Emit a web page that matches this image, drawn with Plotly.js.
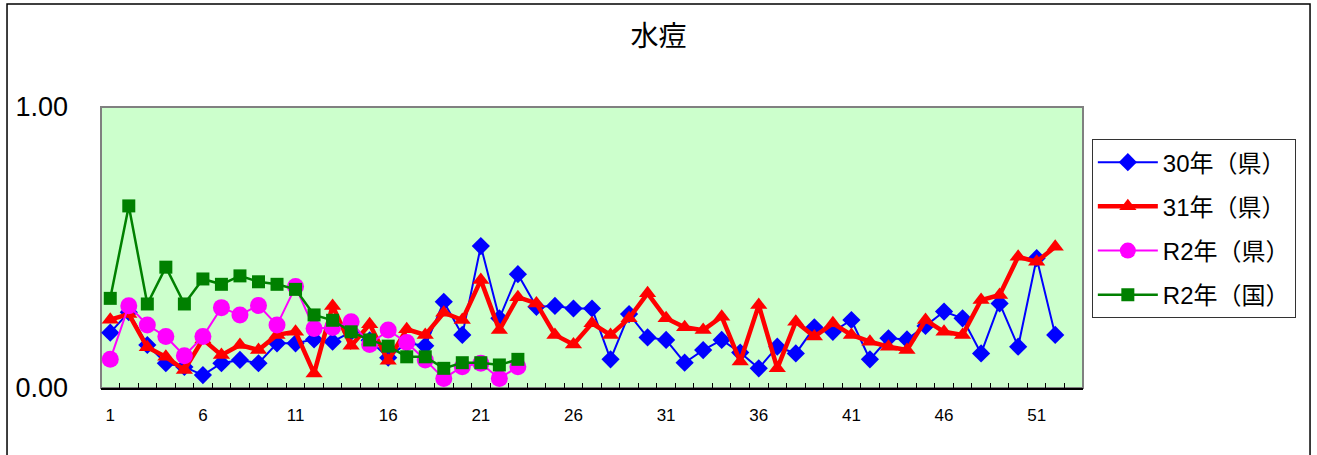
<!DOCTYPE html>
<html>
<head>
<meta charset="utf-8">
<script src="https://cdn.plot.ly/plotly-3.0.1.min.js"></script>
<style>html,body{margin:0;padding:0;background:#fff;}#chart{width:1317px;height:455px;}</style>
</head>
<body>
<div id="chart"></div>
<script>
var weeks = [];
for (var i = 1; i <= 52; i++) weeks.push(i);
var weeksR2 = weeks.slice(0, 23);

var h30 = [0.197,0.27,0.153,0.088,0.075,0.046,0.088,0.100,0.088,0.159,0.159,0.173,0.165,0.20,0.17,0.108,0.16,0.150,0.307,0.189,0.505,0.248,0.405,0.289,0.292,0.283,0.283,0.102,0.263,0.180,0.171,0.090,0.135,0.171,0.126,0.070,0.147,0.123,0.216,0.200,0.242,0.102,0.177,0.173,0.221,0.272,0.248,0.123,0.301,0.147,0.462,0.189];
var h31 = [0.243,0.263,0.145,0.111,0.064,0.173,0.117,0.153,0.135,0.189,0.200,0.052,0.292,0.150,0.227,0.097,0.209,0.189,0.268,0.242,0.384,0.206,0.323,0.301,0.189,0.155,0.230,0.189,0.248,0.337,0.248,0.216,0.206,0.254,0.094,0.295,0.070,0.236,0.183,0.230,0.189,0.165,0.147,0.135,0.242,0.200,0.189,0.313,0.331,0.467,0.449,0.503];
var r2Pref = [0.102,0.293,0.224,0.183,0.115,0.183,0.286,0.260,0.294,0.224,0.361,0.212,0.215,0.236,0.155,0.206,0.162,0.100,0.034,0.076,0.088,0.034,0.076];
var r2Nat = [0.319,0.648,0.299,0.430,0.299,0.388,0.369,0.399,0.378,0.369,0.351,0.260,0.241,0.200,0.171,0.149,0.111,0.111,0.070,0.090,0.090,0.082,0.102];

var xTickVals = [1,6,11,16,21,26,31,36,41,46,51];
var xTickText = ['1','6','11','16','21','26','31','36','41','46','51'];
var boundaries = [];
for (var b = 1.5; b < 53; b += 1) boundaries.push(b);

var seriesNames = ['30年（県）','31年（県）','R2年（県）','R2年（国）'];

var FONT = 'Liberation Sans, Arial, Noto Sans CJK JP, sans-serif';

var traces = [
  {x: weeks, y: h30, name: seriesNames[0], mode: 'lines+markers', legendgroup: 'a',
   line: {color: '#0000FF', width: 2}, marker: {symbol: 'diamond', size: 14, color: '#0000FF'}},
  {x: weeks, y: h31, name: seriesNames[1], mode: 'lines+markers', legendgroup: 'b',
   line: {color: '#FF0000', width: 4.5}, marker: {symbol: 'triangle-up', size: 15, color: '#FF0000'}},
  {x: weeksR2, y: r2Pref, name: seriesNames[2], mode: 'lines+markers', legendgroup: 'c',
   line: {color: '#FF00FF', width: 2}, marker: {symbol: 'circle', size: 17, color: '#FF00FF'}},
  {x: weeksR2, y: r2Nat, name: seriesNames[3], mode: 'lines+markers', legendgroup: 'd',
   line: {color: '#008000', width: 2.5}, marker: {symbol: 'square', size: 13, color: '#008000'}},
  {x: [1], y: [null], xaxis: 'x2', showlegend: false, hoverinfo: 'skip', mode: 'lines'}
];

var layout = {
  width: 1317, height: 455,
  margin: {l: 101, r: 234, t: 107, b: 67},
  paper_bgcolor: '#FFFFFF',
  plot_bgcolor: '#CCFFCC',
  font: {family: FONT, color: '#000'},
  showlegend: true,
  title: {text: '水痘', font: {size: 28, family: 'Noto Sans CJK JP, sans-serif', color: '#000'},
          x: 0.5, xref: 'container', y: 0.921, yref: 'container', xanchor: 'center', yanchor: 'middle'},
  xaxis: {
    range: [0.5, 53.5], tickvals: xTickVals, ticktext: xTickText,
    ticks: '', showgrid: false, zeroline: false, showline: true, linecolor: '#000', linewidth: 2,
    tickfont: {size: 17, family: FONT}, ticklabelstandoff: 11, fixedrange: true
  },
  xaxis2: {
    overlaying: 'x', range: [0.5, 53.5], tickvals: boundaries, ticks: 'inside', ticklen: 5,
    tickcolor: '#000', tickwidth: 1, showticklabels: false, showgrid: false, zeroline: false,
    showline: false, side: 'bottom', anchor: 'y'
  },
  yaxis: {
    range: [0, 1], tickvals: [0, 1], tickformat: '.2f', ticks: '', showgrid: false, zeroline: false,
    showline: false, tickfont: {size: 27, family: FONT}, ticklabelstandoff: 32, fixedrange: true
  },
  legend: {
    x: 1.009, xanchor: 'left', y: 0.886, yanchor: 'top',
    bgcolor: '#FFFFFF', bordercolor: '#333', borderwidth: 1,
    font: {size: 24, family: FONT}, tracegroupgap: 10, traceorder: 'grouped', itemwidth: 60
  },
  shapes: [
    {type: 'rect', xref: 'paper', yref: 'paper', x0: -0.0957, x1: 1.2312, y0: -0.3, y1: 1.3665,
     line: {color: '#000', width: 1.5}, fillcolor: 'rgba(0,0,0,0)', layer: 'below'},
    {type: 'rect', xref: 'paper', yref: 'paper', x0: 0, x1: 1, y0: 0, y1: 1,
     line: {color: '#808080', width: 2}, fillcolor: 'rgba(0,0,0,0)', layer: 'below'}
  ]
};

Plotly.newPlot('chart', traces, layout, {staticPlot: true, displayModeBar: false});
</script>
</body>
</html>
